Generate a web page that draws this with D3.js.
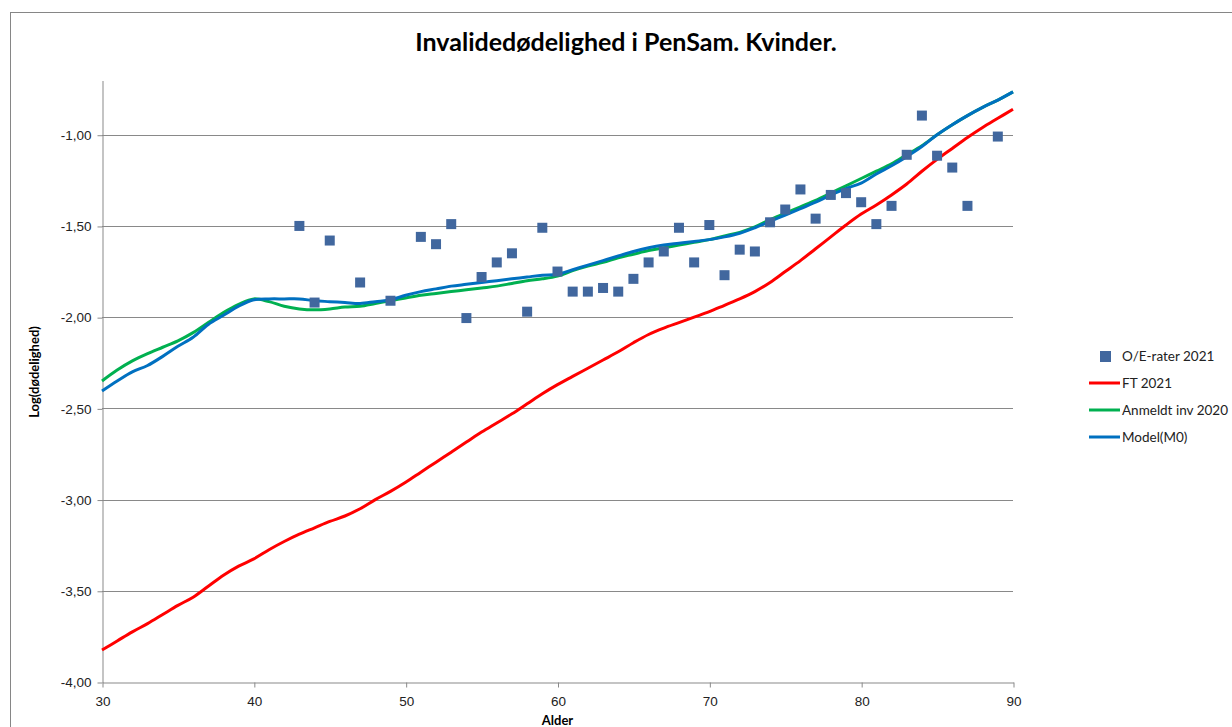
<!DOCTYPE html>
<html>
<head>
<meta charset="utf-8">
<script src="https://cdn.jsdelivr.net/npm/d3@7"></script>
<style>
  body { margin: 0; background: #fff; }
  svg { display: block; font-family: Lato, 'Open Sans', sans-serif; }
  .grid line { stroke: #898989; }
  .axis path, .axis line { stroke: #898989; }
  .axis text { fill: #222; font-size: 13.5px; }
</style>
</head>
<body>
<svg></svg>
<script>
const ages = d3.range(30, 91)

// O/E-rater 2021 (scatter)
const obsAges = [43, 44, 45, 47, 49, 51, 52, 53, 54, 55, 56, 57, 58, 59, 60, 61, 62, 63, 64, 65, 66, 67, 68, 69, 70,
  71, 72, 73, 74, 75, 76, 77, 78, 79, 80, 81, 82, 83, 84, 85, 86, 87, 89]
const obsRates = [-1.50, -1.92, -1.58, -1.81, -1.91, -1.56, -1.60, -1.49, -2.005, -1.78, -1.70, -1.65, -1.97, -1.51,
  -1.75, -1.86, -1.86, -1.84, -1.86, -1.79, -1.70, -1.64, -1.51, -1.70, -1.495, -1.77, -1.63, -1.64, -1.48, -1.41,
  -1.30, -1.46, -1.33, -1.32, -1.37, -1.49, -1.39, -1.11, -0.895, -1.115, -1.18, -1.39, -1.01]

// FT 2021
const ft2021 = [-3.825, -3.775, -3.725, -3.68, -3.63, -3.58, -3.535, -3.475, -3.415, -3.365,
  -3.325, -3.275, -3.23, -3.19, -3.155, -3.12, -3.09, -3.05, -3.00, -2.955,
  -2.905, -2.85, -2.795, -2.74, -2.685, -2.63, -2.58, -2.53, -2.475, -2.42,
  -2.37, -2.325, -2.28, -2.235, -2.19, -2.14, -2.095, -2.06, -2.03, -2.00,
  -1.97, -1.935, -1.90, -1.86, -1.81, -1.75, -1.69, -1.625, -1.56, -1.495,
  -1.435, -1.385, -1.33, -1.27, -1.2, -1.135, -1.075, -1.015, -0.96, -0.91, -0.86]

// Anmeldt inv 2020
const anmeldt2020 = [-2.35, -2.29, -2.24, -2.20, -2.165, -2.13, -2.085, -2.03, -1.975, -1.93,
  -1.90, -1.915, -1.94, -1.955, -1.96, -1.955, -1.945, -1.94, -1.925, -1.91,
  -1.895, -1.88, -1.87, -1.86, -1.85, -1.84, -1.83, -1.815, -1.80, -1.79,
  -1.775, -1.745, -1.72, -1.70, -1.675, -1.655, -1.635, -1.62, -1.605, -1.59,
  -1.575, -1.555, -1.535, -1.505, -1.465, -1.43, -1.395, -1.36, -1.32, -1.28,
  -1.24, -1.2, -1.16, -1.11, -1.06, -1.0, -0.945, -0.895, -0.85, -0.81, -0.765]

// Model(M0)
const modelM0 = [-2.405, -2.35, -2.30, -2.265, -2.215, -2.16, -2.11, -2.04, -1.99, -1.94,
  -1.905, -1.90, -1.90, -1.90, -1.91, -1.915, -1.92, -1.925, -1.915, -1.905,
  -1.88, -1.86, -1.845, -1.83, -1.82, -1.81, -1.80, -1.79, -1.78, -1.77,
  -1.765, -1.74, -1.715, -1.69, -1.665, -1.64, -1.62, -1.605, -1.595, -1.585,
  -1.575, -1.56, -1.54, -1.51, -1.475, -1.44, -1.405, -1.37, -1.33, -1.295,
  -1.265, -1.215, -1.17, -1.12, -1.065, -1.0, -0.945, -0.895, -0.85, -0.81, -0.765]

const xTicks = [30, 40, 50, 60, 70, 80, 90]
const yTicks = [-4, -3.5, -3, -2.5, -2, -1.5, -1]

const series = [
  { name: 'FT 2021', values: ft2021, color: '#ff0000' },
  { name: 'Anmeldt inv 2020', values: anmeldt2020, color: '#00b050' },
  { name: 'Model(M0)', values: modelM0, color: '#0070c0' }
]

const WIDTH = 1232
const HEIGHT = 727
const PLOT = { left: 102, right: 1013, top: 80, bottom: 682 }
const MARKER = '#41679e'

const svg = d3.select('svg').attr('width', WIDTH).attr('height', HEIGHT)

const xScale = d3.scaleLinear().domain([30, 90]).range([PLOT.left, PLOT.right])
const yScale = d3.scaleLinear().domain([-4, -0.7]).range([PLOT.bottom, PLOT.top])

const fmt = d => d3.format('.2f')(d).replace('.', ',').replace('−', '-')

// outer chart border
svg.append('rect')
  .attr('x', 10.5).attr('y', 12.5)
  .attr('width', WIDTH).attr('height', HEIGHT)
  .attr('fill', 'none').attr('stroke', '#868686')

svg.append('text')
  .attr('x', 626).attr('y', 51)
  .attr('text-anchor', 'middle')
  .style('font-size', '25px').style('font-weight', 'bold')
  .text('Invalidedødelighed i PenSam. Kvinder.')

// gridlines
svg.append('g').attr('class', 'grid')
  .selectAll('line')
  .data(yTicks.filter(d => d > -4))
  .enter().append('line')
  .attr('x1', PLOT.left).attr('x2', PLOT.right)
  .attr('y1', d => Math.round(yScale(d)) + 0.5)
  .attr('y2', d => Math.round(yScale(d)) + 0.5)

function drawAxes() {
  const yAxis = d3.axisLeft(yScale).tickValues(yTicks).tickFormat(fmt).tickSize(5).tickSizeOuter(0)
  const gy = svg.append('g').attr('class', 'axis')
    .attr('transform', `translate(${PLOT.left + 0.5}, 0.5)`)
    .call(yAxis)
  gy.selectAll('text').attr('x', -11)

  const xAxis = d3.axisBottom(xScale).tickValues(xTicks).tickSize(5).tickSizeOuter(0)
  const gx = svg.append('g').attr('class', 'axis')
    .attr('transform', `translate(0.5, ${PLOT.bottom + 0.5})`)
    .call(xAxis)
  gx.selectAll('text').attr('y', 14)

  svg.append('text')
    .attr('transform', `translate(39, 372) rotate(-90)`)
    .attr('text-anchor', 'middle')
    .style('font-size', '13px').style('font-weight', 'bold')
    .text('Log(dødelighed)')

  svg.append('text')
    .attr('x', (PLOT.left + PLOT.right) / 2).attr('y', 725)
    .attr('text-anchor', 'middle')
    .style('font-size', '13px').style('font-weight', 'bold')
    .text('Alder')
}

function drawLines() {
  const line = d3.line()
    .x((d, i) => xScale(ages[i]))
    .y(d => yScale(d))
    .curve(d3.curveCatmullRom.alpha(0.5))

  svg.append('g')
    .selectAll('path')
    .data(series)
    .enter().append('path')
    .attr('d', d => line(d.values))
    .attr('fill', 'none')
    .attr('stroke', d => d.color)
    .attr('stroke-width', 3)
    .attr('stroke-linejoin', 'round')
}

function drawPoints() {
  svg.append('g')
    .selectAll('rect')
    .data(obsRates)
    .enter().append('rect')
    .attr('x', (d, i) => xScale(obsAges[i]) - 5)
    .attr('y', d => yScale(d) - 5)
    .attr('width', 10).attr('height', 10)
    .attr('fill', MARKER)
}

function drawLegend() {
  const lg = svg.append('g').style('font-size', '13.5px')
  lg.append('rect').attr('x', 1100).attr('y', 351).attr('width', 11).attr('height', 11).attr('fill', MARKER)
  lg.append('text').attr('x', 1122).attr('y', 361).attr('fill', '#222').text('O/E-rater 2021')

  const rows = lg.selectAll('g.item')
    .data(series)
    .enter().append('g')
    .attr('class', 'item')
    .attr('transform', (d, i) => `translate(0, ${383 + i * 27})`)
  rows.append('line')
    .attr('x1', 1089).attr('x2', 1120)
    .attr('stroke', d => d.color).attr('stroke-width', 3)
  rows.append('text')
    .attr('x', 1122).attr('y', 5)
    .attr('fill', '#222')
    .text(d => d.name)
}

drawAxes()
drawLines()
drawPoints()
drawLegend()
</script>
</body>
</html>
